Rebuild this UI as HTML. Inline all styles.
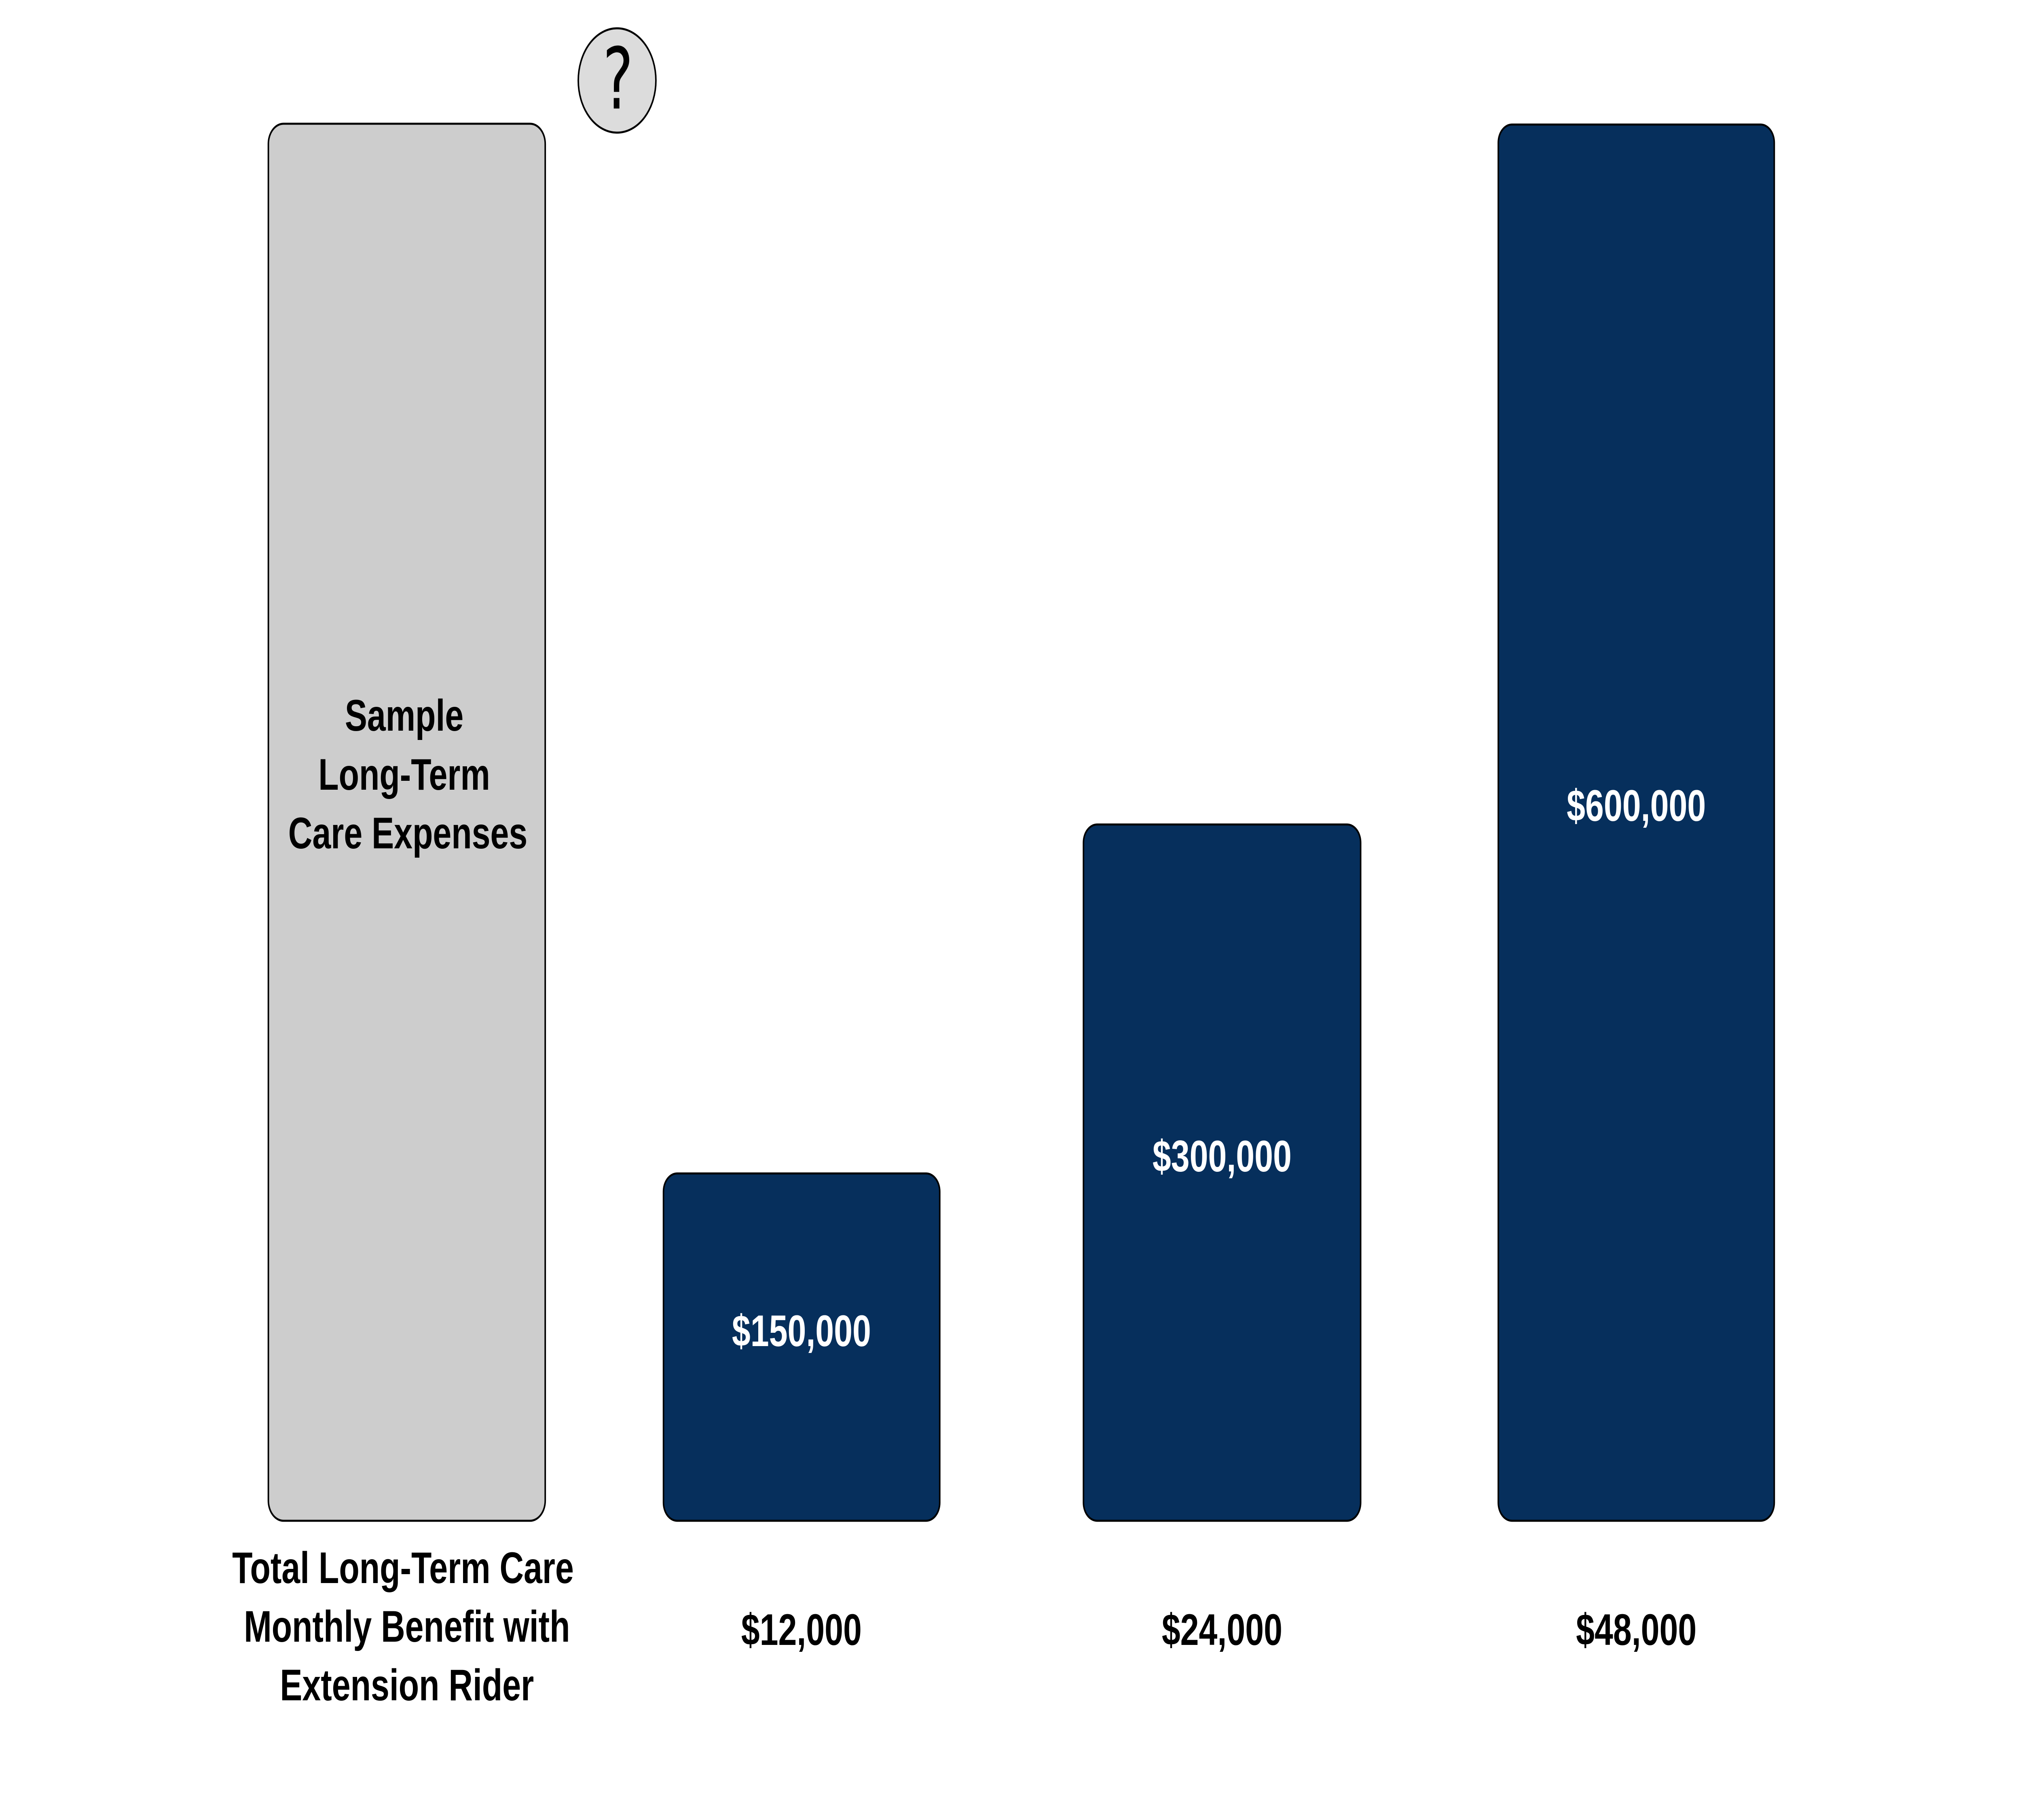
<!DOCTYPE html>
<html><head><meta charset="utf-8"><style>
html,body{margin:0;padding:0;background:#fff;width:100%;height:100%;overflow:hidden}
svg{display:block;position:fixed;left:0;top:0;width:100vw;height:100vh}
text{font-family:"Liberation Sans",Arial,sans-serif;font-weight:bold;font-size:110px;text-anchor:middle;dominant-baseline:central}
</style></head><body>
<svg viewBox="0 0 6668 4501" preserveAspectRatio="none" xmlns="http://www.w3.org/2000/svg">
<rect x="0" y="0" width="6668" height="4501" fill="#fff"/>
<rect x="885" y="306" width="913" height="3455" rx="50" ry="50" fill="#cdcdcd" stroke="#000" stroke-width="5"/>
<rect x="2188" y="2902" width="911" height="859" rx="45" ry="45" fill="#062f5c" stroke="#000" stroke-width="5"/>
<rect x="3573" y="2039" width="914" height="1722" rx="45" ry="45" fill="#062f5c" stroke="#000" stroke-width="5"/>
<rect x="4941" y="308" width="910" height="3453" rx="45" ry="45" fill="#062f5c" stroke="#000" stroke-width="5"/>
<ellipse cx="2035" cy="199" rx="128" ry="129" fill="#dcdcdc" stroke="#000" stroke-width="5"/>
<text x="2038" y="196" style="font-size:210px;font-weight:normal;font-family:'DejaVu Sans Condensed','DejaVu Sans',sans-serif">?</text>
<text x="1333" y="1769" fill="#000">Sample</text>
<text x="1333" y="1915" fill="#000">Long-Term</text>
<text x="1345" y="2060" fill="#000">Care Expenses</text>
<text x="2643" y="3291" fill="#fff">$150,000</text>
<text x="4030" y="2859" fill="#fff">$300,000</text>
<text x="5396" y="1992" fill="#fff">$600,000</text>
<text x="1329" y="3877" fill="#000">Total Long-Term Care</text>
<text x="1342" y="4022" fill="#000">Monthly Benefit with</text>
<text x="1342" y="4167" fill="#000">Extension Rider</text>
<text x="2643" y="4030" fill="#000">$12,000</text>
<text x="4030" y="4030" fill="#000">$24,000</text>
<text x="5396" y="4030" fill="#000">$48,000</text>
</svg>
</body></html>
